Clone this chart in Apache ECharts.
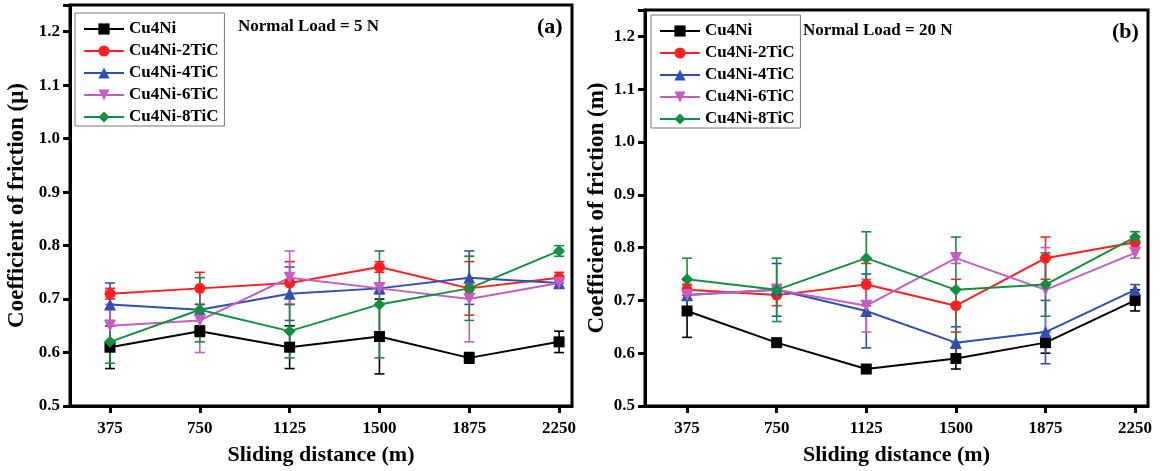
<!DOCTYPE html>
<html><head><meta charset="utf-8">
<script src="https://cdn.jsdelivr.net/npm/echarts@6/dist/echarts.min.js"></script>
<style>html,body{margin:0;padding:0;background:#fff}#c{width:1163px;height:471px}</style>
</head><body><div id="c"></div>
<script>
const distances = [375, 750, 1125, 1500, 1875, 2250];
const seriesNames = ['Cu4Ni', 'Cu4Ni-2TiC', 'Cu4Ni-4TiC', 'Cu4Ni-6TiC', 'Cu4Ni-8TiC'];
const yTicks = [0.5, 0.6, 0.7, 0.8, 0.9, 1.0, 1.1, 1.2];

// Panel (a): Normal load = 5 N — mean and error
const a_Cu4Ni      = [0.61, 0.64, 0.61, 0.63, 0.59, 0.62];
const a_Cu4Ni_err  = [0.04, 0.01, 0.04, 0.07, 0.01, 0.02];
const a_2TiC       = [0.71, 0.72, 0.73, 0.76, 0.72, 0.74];
const a_2TiC_err   = [0.01, 0.03, 0.04, 0.01, 0.05, 0.01];
const a_4TiC       = [0.69, 0.68, 0.71, 0.72, 0.74, 0.73];
const a_4TiC_err   = [0.04, 0.01, 0.05, 0.01, 0.05, 0.01];
const a_6TiC       = [0.65, 0.66, 0.74, 0.72, 0.70, 0.73];
const a_6TiC_err   = [0.04, 0.06, 0.05, 0.01, 0.08, 0.01];
const a_8TiC       = [0.62, 0.68, 0.64, 0.69, 0.72, 0.79];
const a_8TiC_err   = [0.04, 0.06, 0.05, 0.10, 0.06, 0.01];

// Panel (b): Normal load = 20 N — mean and error
const b_Cu4Ni      = [0.68, 0.62, 0.57, 0.59, 0.62, 0.70];
const b_Cu4Ni_err  = [0.05, 0.005, 0.005, 0.02, 0.02, 0.02];
const b_2TiC       = [0.72, 0.71, 0.73, 0.69, 0.78, 0.81];
const b_2TiC_err   = [0.01, 0.02, 0.04, 0.05, 0.04, 0.01];
const b_4TiC       = [0.71, 0.72, 0.68, 0.62, 0.64, 0.72];
const b_4TiC_err   = [0.03, 0.05, 0.07, 0.03, 0.06, 0.01];
const b_6TiC       = [0.71, 0.72, 0.69, 0.78, 0.72, 0.79];
const b_6TiC_err   = [0.01, 0.005, 0.05, 0.01, 0.08, 0.01];
const b_8TiC       = [0.74, 0.72, 0.78, 0.72, 0.73, 0.82];
const b_8TiC_err   = [0.04, 0.06, 0.05, 0.10, 0.06, 0.01];

const colors = ['#000000', '#ff1f1f', '#2f4fb5', '#c45ec2', '#13903f'];
const symbols = ['rect', 'circle', 'triangle', 'path://M0,0 L10,0 L5,9 Z', 'diamond'];
const symbolSizes = [11, 11, 12, 12, 12];

const panelA = [[a_Cu4Ni, a_Cu4Ni_err], [a_2TiC, a_2TiC_err], [a_4TiC, a_4TiC_err], [a_6TiC, a_6TiC_err], [a_8TiC, a_8TiC_err]];
const panelB = [[b_Cu4Ni, b_Cu4Ni_err], [b_2TiC, b_2TiC_err], [b_4TiC, b_4TiC_err], [b_6TiC, b_6TiC_err], [b_8TiC, b_8TiC_err]];

const FONT = '"Liberation Serif", "Times New Roman", serif';
const chart = echarts.init(document.getElementById('c'), null, {renderer: 'canvas'});

function errRender(color) {
  return function (params, api) {
    const x = api.value(0);
    const lo = api.coord([x, api.value(1)]);
    const hi = api.coord([x, api.value(2)]);
    const w = 5;
    const style = {stroke: color, lineWidth: 1.6};
    return {type: 'group', children: [
      {type: 'line', shape: {x1: lo[0], y1: lo[1], x2: hi[0], y2: hi[1]}, style},
      {type: 'line', shape: {x1: lo[0] - w, y1: lo[1], x2: lo[0] + w, y2: lo[1]}, style},
      {type: 'line', shape: {x1: hi[0] - w, y1: hi[1], x2: hi[0] + w, y2: hi[1]}, style}
    ]};
  };
}

function buildSeries(panel, idx) {
  const out = [];
  panel.forEach((pair, i) => {
    const [mean, err] = pair;
    out.push({
      type: 'custom', xAxisIndex: idx, yAxisIndex: idx, z: 2,
      renderItem: errRender(colors[i]),
      encode: {x: 0, y: [1, 2]},
      data: distances.map((d, k) => [d, +(mean[k] - err[k]).toFixed(3), +(mean[k] + err[k]).toFixed(3)]),
      silent: true
    });
  });
  panel.forEach((pair, i) => {
    out.push({
      name: seriesNames[i], type: 'line', xAxisIndex: idx, yAxisIndex: idx, z: 3,
      data: distances.map((d, k) => [d, pair[0][k]]),
      symbol: symbols[i], symbolSize: symbolSizes[i], showAllSymbol: true,
      lineStyle: {color: colors[i], width: 2},
      itemStyle: {color: colors[i]},
      animation: false
    });
  });
  return out;
}

function xAxisCfg(idx, min) {
  return {
    type: 'value', gridIndex: idx, min: min, max: 2304,
    name: 'Sliding distance (m)', nameLocation: 'middle', nameGap: 38,
    nameTextStyle: {fontFamily: FONT, fontWeight: 'bold', fontSize: 22, color: '#000'},
    axisLine: {lineStyle: {color: '#000', width: 3}},
    axisTick: {show: true, inside: false, length: 7, lineStyle: {width: 3, color: '#000'}, customValues: distances},
    axisLabel: {customValues: distances, margin: 14, fontFamily: FONT, fontWeight: 'bold', fontSize: 17, color: '#000',
      formatter: v => String(v)},
    splitLine: {show: false}
  };
}
function yAxisCfg(idx, name, gap) {
  return {
    type: 'value', gridIndex: idx, min: 0.5, max: 1.25, interval: 0.1,
    name: name, nameLocation: 'middle', nameGap: gap,
    nameTextStyle: {fontFamily: FONT, fontWeight: 'bold', fontSize: 23, color: '#000'},
    axisLine: {show: true, lineStyle: {color: '#000', width: 3}},
    axisTick: {show: true, inside: false, length: 7, lineStyle: {width: 3, color: '#000'}},
    axisLabel: {margin: 10, fontFamily: FONT, fontWeight: 'bold', fontSize: 17, color: '#000',
      formatter: v => v.toFixed(1), customValues: yTicks},
    splitLine: {show: false}
  };
}
function legendCfg(left, top) {
  return {
    data: seriesNames, orient: 'vertical', left: left, top: top,
    itemWidth: 40, itemHeight: 14, itemGap: 4,
    padding: [7, 6, 0, 8],
    borderColor: '#777', borderWidth: 1, backgroundColor: '#fff',
    textStyle: {fontFamily: FONT, fontWeight: 'bold', fontSize: 17, color: '#000', lineHeight: 18},
    selectedMode: false
  };
}

chart.setOption({
  animation: false,
  backgroundColor: '#fff',
  grid: [
    {left: 70, right: 591, top: 5, bottom: 64, show: true, borderColor: '#000', borderWidth: 3, backgroundColor: 'transparent'},
    {left: 645, right: 15, top: 10, bottom: 61, show: true, borderColor: '#000', borderWidth: 3, backgroundColor: 'transparent'}
  ],
  xAxis: [xAxisCfg(0, 208), xAxisCfg(1, 199)],
  yAxis: [yAxisCfg(0, 'Coefficient of friction (μ)', 41), yAxisCfg(1, 'Coefficient of friction (m)', 36)],
  legend: [legendCfg(75, 13), legendCfg(651, 15)],
  graphic: [
    {type: 'text', left: 238, top: 18, style: {text: 'Normal Load = 5 N', font: 'bold 17px ' + FONT, fill: '#000'}},
    {type: 'text', left: 537, top: 16, style: {text: '(a)', font: 'bold 22px ' + FONT, fill: '#000'}},
    {type: 'text', left: 803, top: 22, style: {text: 'Normal Load = 20 N', font: 'bold 17px ' + FONT, fill: '#000'}},
    {type: 'text', left: 1112, top: 21, style: {text: '(b)', font: 'bold 22px ' + FONT, fill: '#000'}}
  ],
  series: [...buildSeries(panelA, 0), ...buildSeries(panelB, 1)]
});
</script>
</body></html>
